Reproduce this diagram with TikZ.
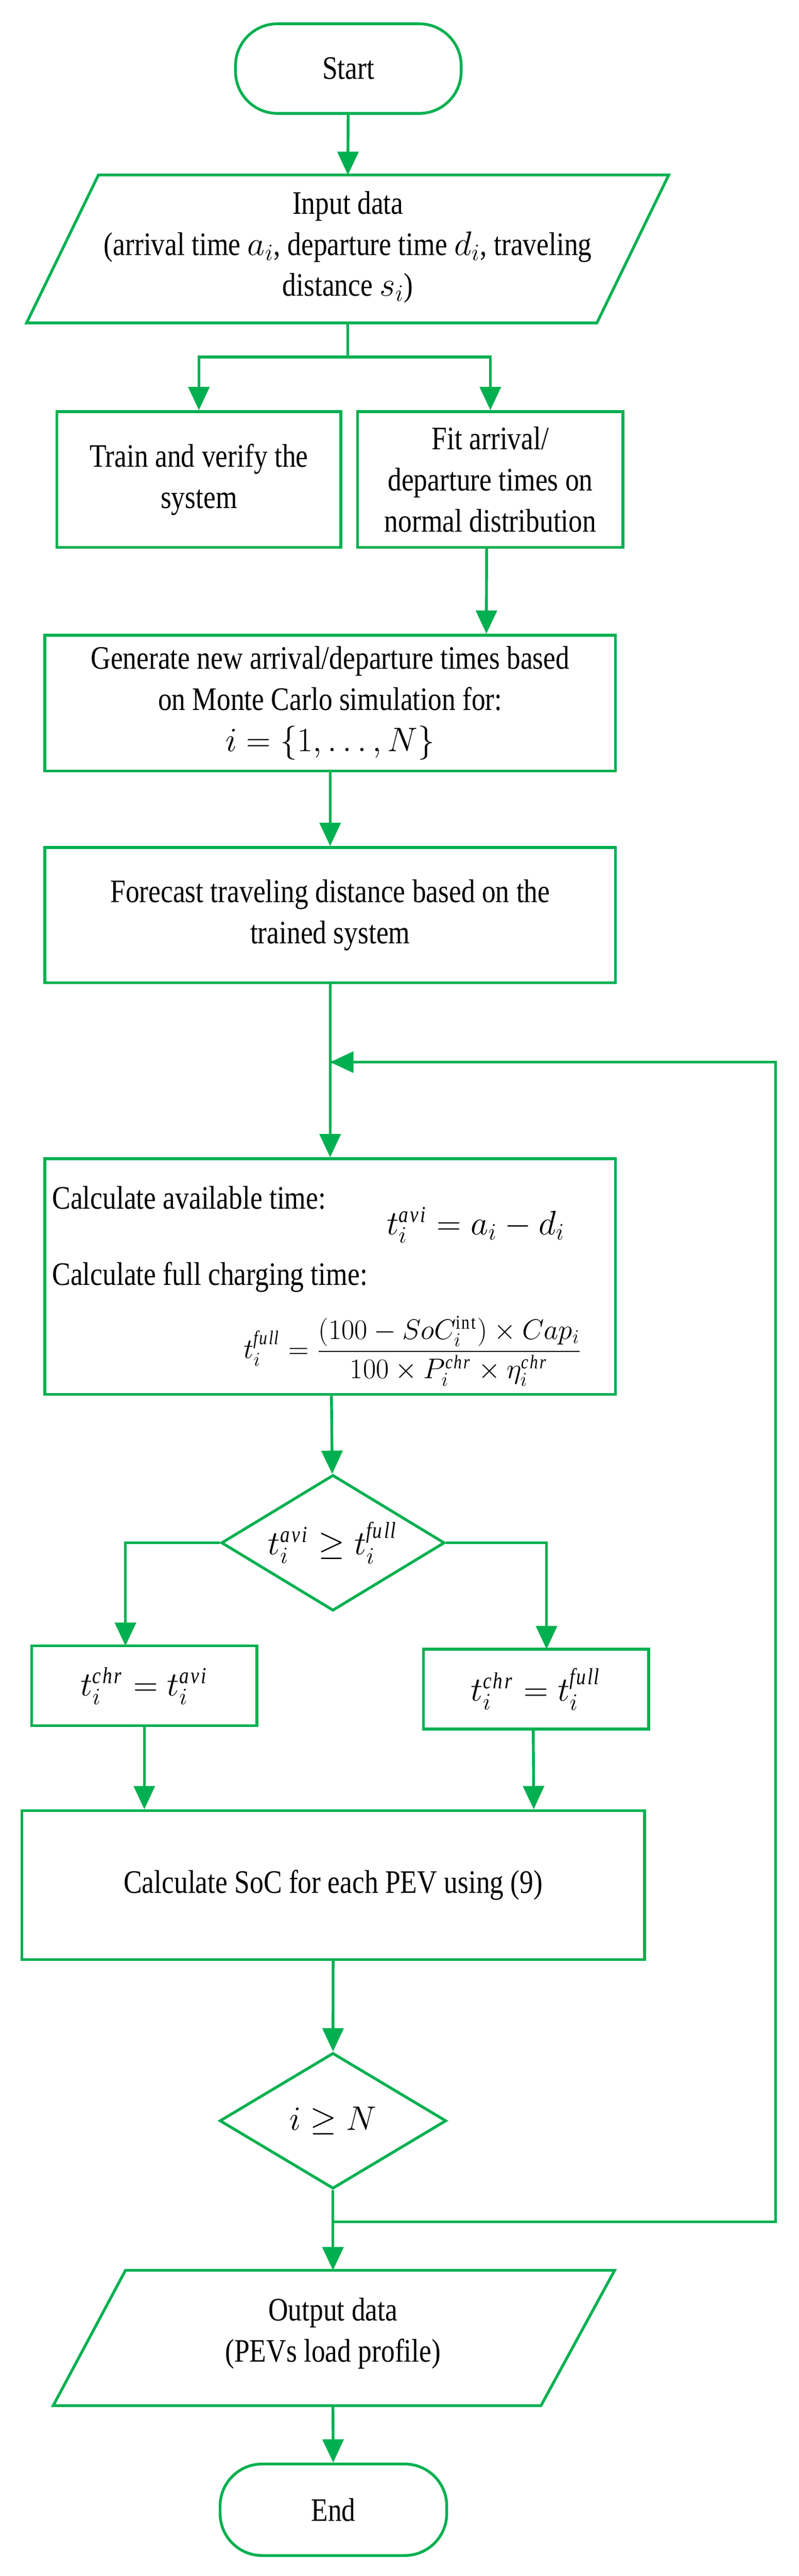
\documentclass[tikz,border=0pt]{standalone}
\usepackage{amsmath, amssymb}
\usepackage{fontspec}
\setmainfont{Liberation Serif}[FakeStretch=0.84]
\usetikzlibrary{arrows.meta, shapes.geometric, calc}
\definecolor{fgreen}{RGB}{0,176,80}

\begin{document}
\begin{tikzpicture}[>={Triangle[length=0.5cm,width=0.45cm]},
         line width=1.7pt,
         flow/.style={draw=fgreen, ->},
         link/.style={draw=fgreen},
         box/.style={
         % The shape:
         rectangle,
         % The border
         draw=fgreen, line width=1.7pt,
         % Font
         align=center, inner sep=0pt,
         font=\fontsize{20}{25}\selectfont},
         term/.style={box, rounded corners=0.9cm},
         cond/.style={box, diamond, aspect=1.65},
         txt/.style={align=center, inner sep=0pt,
         font=\fontsize{20}{25}\selectfont}]
   \useasboundingbox (0,0) rectangle (17.13,-55.2);
   %% top part
   \node [term, minimum width=4.84cm, minimum height=1.92cm] (start) at (7.47,-1.47) {Start};
   \draw [link] (2.11,-3.75) -- (14.34,-3.75) -- (12.80,-6.92) -- (0.57,-6.92) -- cycle;
   \coordinate (inTop) at (7.46,-3.75);
   \coordinate (inBot) at (7.46,-6.92);
   \node [txt] (input) at (7.46,-5.30) {Input data\\(arrival time $a_i$, departure time $d_i$, traveling\\distance $s_i$)};
   \node [box, minimum width=6.09cm, minimum height=2.91cm] (train) at (4.265,-10.275) {Train and verify the\\system};
   \node [box, minimum width=5.69cm, minimum height=2.91cm] (fit) at (10.515,-10.275) {Fit arrival/\\departure times on\\normal distribution};
   \coordinate (split) at (7.46,-7.65);
   \draw [flow] (start) -- (inTop);
   \draw [link] (inBot) -- (split);
   \draw [flow] (split) -| (train.north);
   \draw [flow] (split) -| (fit.north);
   %% middle part
   \node [box, minimum width=12.24cm, minimum height=2.91cm] (gen) at (7.08,-15.065) {Generate new arrival/departure times based\\on Monte Carlo simulation for:\\$i=\left\{1,\ldots,N\right\}$};
   \node [box, minimum width=12.24cm, minimum height=2.90cm] (fore) at (7.08,-19.61) {Forecast traveling distance based on the\\trained system};
   \node [box, minimum width=12.24cm, minimum height=5.05cm] (calc) at (7.08,-27.355) {};
   \node [txt, anchor=base west] (avl) at (1.09,-25.91) {Calculate available time:};
   \node [txt] (avleq) at (10.2,-26.25) {$t_i^{\mathit{avi}}=a_i-d_i$};
   \node [txt, anchor=base west] (ful) at (1.09,-27.54) {Calculate full charging time:};
   \node [txt, font=\fontsize{17}{21}\selectfont] (fuleq) at (8.85,-28.95) {$t_i^{\mathit{full}}=\dfrac{(100-SoC_i^{\mathrm{int}})\times Cap_i}{100\times P_i^{\mathit{chr}}\times\eta_i^{\mathit{chr}}}$};
   \coordinate (join) at (7.08,-22.76);
   \draw [flow] ($(fit.south)+(-0.08,0)$) -- ($(gen.north)+(3.35,0)$);
   \draw [flow] (gen) -- (fore);
   \draw [flow] (fore) -- (calc);
   %% branches
   \node [cond, minimum width=4.79cm, minimum height=2.91cm] (cmp) at (7.14,-33.06) {$t_i^{\mathit{avi}}\geq t_i^{\mathit{full}}$};
   \node [box, minimum width=4.83cm, minimum height=1.71cm] (lset) at (3.095,-36.125) {$t_i^{\mathit{chr}}=t_i^{\mathit{avi}}$};
   \node [box, minimum width=4.83cm, minimum height=1.71cm] (rset) at (11.495,-36.195) {$t_i^{\mathit{chr}}=t_i^{\mathit{full}}$};
   \node [box, minimum width=13.35cm, minimum height=3.19cm] (soc) at (7.145,-40.395) {Calculate SoC for each PEV using (9)};
   \coordinate (lIn) at (2.69,-35.27);
   \coordinate (rIn) at (11.72,-35.34);
   \draw [flow] (calc) -- (cmp);
   \draw [flow] (cmp.west) -| (lIn);
   \draw [flow] (cmp.east) -| (rIn);
   \draw [flow] (lset.south) -- (lset.south |- soc.north);
   \draw [flow] ($(rset.south)+(-0.06,0)$) -- ($(soc.north)+(4.3,0)$);
   %% bottom part
   \node [cond, minimum width=4.86cm, minimum height=2.91cm] (chk) at (7.14,-45.445) {$i\geq N$};
   \draw [link] (2.69,-48.65) -- (13.18,-48.65) -- (11.60,-51.55) -- (1.14,-51.55) -- cycle;
   \coordinate (outTop) at (7.14,-48.65);
   \coordinate (outBot) at (7.14,-51.55);
   \node [txt] (output) at (7.14,-50.0) {Output data\\(PEVs load profile)};
   \node [term, minimum width=4.86cm, minimum height=1.96cm] (end) at (7.15,-53.78) {End};
   \coordinate (back) at (7.14,-47.61);
   \coordinate (loopR) at (16.63,-47.61);
   \draw [flow] (soc) -- (chk);
   \draw [flow] (chk) -- (outTop);
   \draw [link] (back) -- (loopR) |- (join);
   \draw [flow] (loopR |- join) -- (join);
   \draw [flow] (outBot) -- (end);
\end{tikzpicture}
\end{document}
